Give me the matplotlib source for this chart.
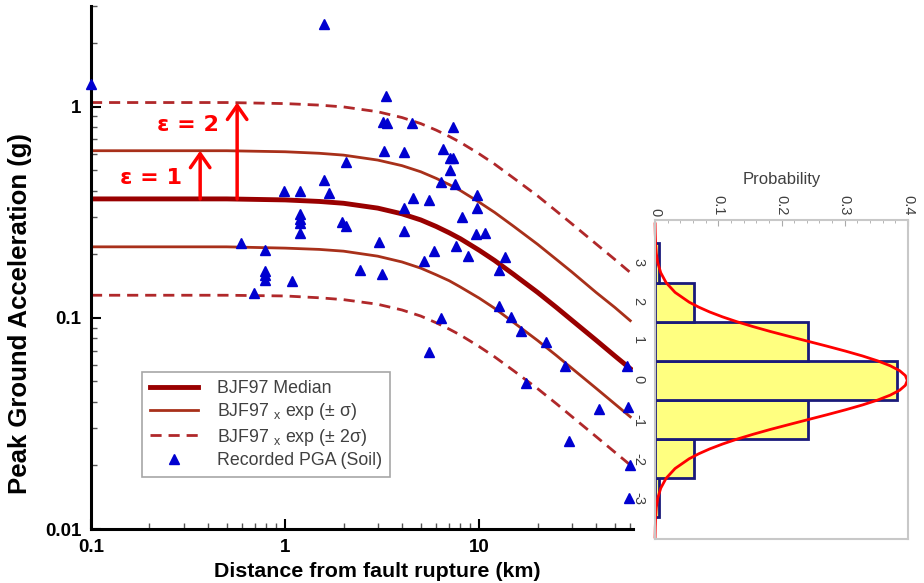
import matplotlib
matplotlib.use("Agg")
import matplotlib.pyplot as plt
from matplotlib.ticker import MultipleLocator

plt.rcParams['font.family'] = ['Liberation Sans', 'DejaVu Sans']
plt.rcParams['mathtext.default'] = 'regular'

# BJF97 prediction curves (distance km -> PGA g)
dist_km = [0.1, 0.5, 1, 1.5, 2, 3, 4, 5, 6, 7, 8, 10, 12, 15, 20, 25, 30, 40, 50, 60]
median = [0.366, 0.366, 0.362, 0.356, 0.349, 0.331, 0.311, 0.291, 0.271, 0.253,
          0.237, 0.209, 0.187, 0.161, 0.132, 0.112, 0.0975, 0.0784, 0.066, 0.0575]
plus1 = [0.619, 0.619, 0.612, 0.602, 0.590, 0.559, 0.526, 0.492, 0.458, 0.428,
         0.401, 0.353, 0.316, 0.272, 0.223, 0.189, 0.165, 0.132, 0.112, 0.097]
minus1 = [0.217, 0.217, 0.214, 0.211, 0.207, 0.196, 0.184, 0.172, 0.160, 0.150,
          0.140, 0.124, 0.111, 0.0953, 0.0781, 0.0663, 0.0577, 0.0464, 0.0391, 0.034]
plus2 = [1.047, 1.047, 1.035, 1.018, 0.998, 0.947, 0.889, 0.832, 0.775, 0.724,
         0.678, 0.598, 0.535, 0.460, 0.378, 0.320, 0.279, 0.224, 0.189, 0.164]
minus2 = [0.128, 0.128, 0.127, 0.1245, 0.122, 0.116, 0.109, 0.102, 0.0948, 0.0885,
          0.0829, 0.0731, 0.0654, 0.0563, 0.0462, 0.0392, 0.0341, 0.0274, 0.0231, 0.0201]

# recorded PGA (soil)
rec_dist = [0.1, 1.58, 3.32, 3.20, 3.35, 4.50, 7.37, 3.24, 4.11, 6.50, 7.09, 7.37, 7.09,
            6.35, 7.52, 2.06, 1.58, 0.99, 1.19, 1.68, 9.7, 9.7, 4.58, 5.54, 4.11, 8.14,
            1.19, 1.19, 1.19, 1.19, 1.96, 2.06, 4.11, 9.66, 10.7, 3.03, 7.59, 5.84, 8.78,
            13.6, 12.6, 5.18, 2.44, 3.14, 1.09, 0.59, 0.79, 0.79, 0.79, 0.79, 0.69,
            12.6, 14.5, 6.35, 16.4, 22.1, 5.48, 27.8, 57.9, 17.4, 41.2, 58.3, 28.9, 59.5, 58.9]
rec_pga = [1.28, 2.47, 1.12, 0.85, 0.84, 0.84, 0.80, 0.62, 0.61, 0.63, 0.57, 0.57, 0.50,
           0.44, 0.43, 0.55, 0.45, 0.40, 0.40, 0.39, 0.38, 0.33, 0.37, 0.36, 0.33, 0.30,
           0.31, 0.293, 0.282, 0.252, 0.286, 0.271, 0.258, 0.249, 0.253, 0.228, 0.219, 0.207, 0.197,
           0.194, 0.168, 0.186, 0.168, 0.162, 0.150, 0.226, 0.210, 0.167, 0.160, 0.151, 0.131,
           0.114, 0.101, 0.100, 0.087, 0.077, 0.069, 0.059, 0.059, 0.049, 0.037, 0.038, 0.026, 0.020, 0.014]

# epsilon histogram
eps_bins = [-3, -2, -1, 0, 1, 2, 3]
eps_prob = [0.006, 0.061, 0.242, 0.383, 0.242, 0.061, 0.006]
eps_curve = [-4, -3.75, -3.5, -3.25, -3, -2.75, -2.5, -2.25, -2, -1.875, -1.75, -1.625,
             -1.5, -1.375, -1.25, -1.125, -1, -0.875, -0.75, -0.625, -0.5, -0.375, -0.25,
             -0.125, 0, 0.125, 0.25, 0.375, 0.5, 0.625, 0.75, 0.875, 1, 1.125, 1.25,
             1.375, 1.5, 1.625, 1.75, 1.875, 2, 2.25, 2.5, 2.75, 3, 3.25, 3.5, 3.75, 4]
pdf_curve = [0.0001, 0.0004, 0.0009, 0.0020, 0.0044, 0.0091, 0.0175, 0.0317, 0.0540,
             0.0689, 0.0863, 0.1066, 0.1295, 0.1551, 0.1826, 0.2122, 0.2420, 0.2721,
             0.3011, 0.3282, 0.3521, 0.3719, 0.3867, 0.3958, 0.3989, 0.3958, 0.3867,
             0.3719, 0.3521, 0.3282, 0.3011, 0.2721, 0.2420, 0.2122, 0.1826, 0.1551,
             0.1295, 0.1066, 0.0863, 0.0689, 0.0540, 0.0317, 0.0175, 0.0091, 0.0044,
             0.0020, 0.0009, 0.0004, 0.0001]

fig = plt.figure(figsize=(9.24, 5.83), dpi=100)
ax = fig.add_axes([0.0985, 0.0926, 0.5866, 0.8971])

ax.plot(dist_km, median, color='#990000', lw=3.5, label='BJF97 Median')
ax.plot(dist_km, plus1, color='#a8301a', lw=2, label='BJF97 $_x$ exp (± σ)')
ax.plot(dist_km, minus1, color='#a8301a', lw=2)
ax.plot(dist_km, plus2, color='#b0282a', lw=2, ls=(0, (4, 2.5)), label='BJF97 $_x$ exp (± 2σ)')
ax.plot(dist_km, minus2, color='#b0282a', lw=2, ls=(0, (4, 2.5)))
ax.plot(rec_dist, rec_pga, ls='none', marker='^', ms=6.5, color='#0000d0',
        label='Recorded PGA (Soil)', clip_on=False, zorder=5)

ax.set_xscale('log')
ax.set_yscale('log')
ax.set_xlim(0.1, 62)
ax.set_ylim(0.01, 3.0)
ax.set_xticks([0.1, 1, 10])
ax.set_xticklabels(['0.1', '1', '10'])
ax.set_yticks([0.01, 0.1, 1])
ax.set_yticklabels(['0.01', '0.1', '1'])
for s in ['top', 'right']:
    ax.spines[s].set_visible(False)
for s in ['left', 'bottom']:
    ax.spines[s].set_linewidth(2.2)
ax.tick_params(which='major', direction='in', length=7, width=1.5, labelsize=13.5, pad=7)
ax.tick_params(which='minor', direction='in', length=4, width=1, color='#555555')
for lab in ax.get_xticklabels() + ax.get_yticklabels():
    lab.set_fontweight('bold')

ax.set_xlabel('Distance from fault rupture (km)', fontsize=15.4, fontweight='bold')
ax.xaxis.set_label_coords(0.529, -0.063)
ax.set_ylabel('Peak Ground Acceleration (g)', fontsize=18.5, fontweight='bold')
ax.yaxis.set_label_coords(-0.108, 0.411)

# epsilon arrows
eps1_x = 0.365
eps2_x = 0.566
arr = dict(arrowstyle='->, head_length=0.5, head_width=0.35', color='red', lw=2.5,
           mutation_scale=20, shrinkA=0, shrinkB=0)
ax.annotate('', xy=(eps1_x, plus1[0]), xytext=(eps1_x, median[0]), arrowprops=arr)
ax.annotate('', xy=(eps2_x, plus2[0]), xytext=(eps2_x, median[0]), arrowprops=arr)
ax.text(0.141, 0.461, 'ε = 1', color='red', fontsize=16, fontweight='bold',
        family='DejaVu Sans', ha='left', va='center')
ax.text(0.219, 0.822, 'ε = 2', color='red', fontsize=16, fontweight='bold',
        family='DejaVu Sans', ha='left', va='center')

leg = ax.legend(loc='upper left', bbox_to_anchor=(0.094, 0.300), borderaxespad=0,
                fontsize=12.8, handlelength=2.7, handletextpad=1.05, labelspacing=0.24,
                borderpad=0.45, fancybox=False, frameon=True)
leg.get_frame().set_edgecolor('#909090')
leg.get_frame().set_linewidth(1.2)
for t in leg.get_texts():
    t.set_color('#404040')

# rotated probability histogram
ax2 = fig.add_axes([0.7089, 0.0755, 0.2738, 0.5472])
ax2.barh(eps_bins, eps_prob, height=1.0, color='#ffff80', edgecolor='#1a1a7a', lw=2)
ax2.plot(pdf_curve, eps_curve, color='red', lw=2, clip_on=False)
ax2.set_xlim(0, 0.4)
ax2.set_ylim(-4.05, 4.1)
ax2.xaxis.tick_top()
ax2.xaxis.set_label_position('top')
ax2.set_xticks([0, 0.1, 0.2, 0.3, 0.4])
ax2.set_xticklabels(['0', '0.1', '0.2', '0.3', '0.4'], rotation=-90)
ax2.xaxis.set_minor_locator(MultipleLocator(0.02))
ax2.set_yticks(eps_bins[::-1])
ax2.set_yticklabels([str(v) for v in eps_bins[::-1]], rotation=-90)
ax2.set_xlabel('Probability', fontsize=12, color='#404040', labelpad=8)
ax2.tick_params(axis='x', which='major', direction='in', length=4, color='#aaaaaa',
                labelsize=10.5, labelcolor='#404040', pad=3)
ax2.tick_params(axis='x', which='minor', direction='in', length=2.5, color='#aaaaaa')
ax2.tick_params(axis='y', length=0, labelsize=10.5, labelcolor='#404040', pad=7)
for s in ax2.spines.values():
    s.set_color('#c8c8c8')
    s.set_linewidth(1.5)

fig.savefig('out.png', dpi=100, facecolor='white')
